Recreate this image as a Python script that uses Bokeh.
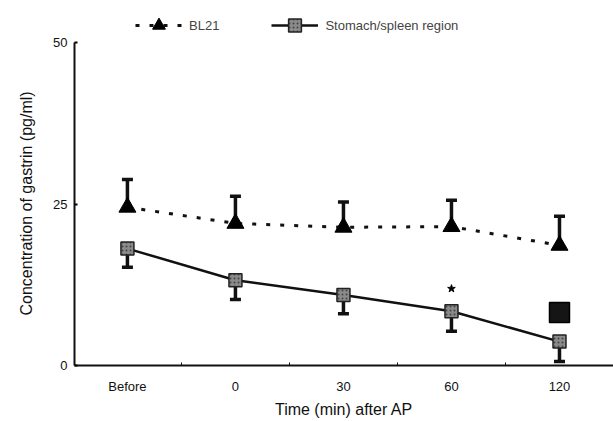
from bokeh.plotting import figure
from bokeh.models import Range1d, FixedTicker, Legend, LegendItem, Title
from bokeh.embed import file_html
from bokeh.resources import INLINE

categories = ["Before", "0", "30", "60", "120"]
bl21_mean = [24.5, 22.0, 21.4, 21.5, 18.6]
bl21_upper = [28.8, 26.2, 25.3, 25.6, 23.1]
stomach_mean = [18.1, 13.2, 10.9, 8.4, 3.7]
stomach_lower = [15.2, 10.2, 8.0, 5.3, 0.6]
star_category = "60"
star_value = 11.9
extra_category = "120"
extra_value = 8.2
y_ticks = [0, 25, 50]
x_title = "Time (min) after AP"
y_title = "Concentration of gastrin (pg/ml)"

xs = list(range(len(categories)))
idx = {c: i for i, c in enumerate(categories)}
FONT = "Liberation Sans"

p = figure(width=613, height=421, output_backend="svg", toolbar_location=None,
           x_range=Range1d(-0.49, 4.50), y_range=Range1d(0, 55.73),
           min_border_left=72, min_border_right=0, min_border_top=5, min_border_bottom=56)
p.outline_line_color = None
p.grid.visible = False
p.background_fill_color = "white"

# error bars
p.segment(x0=xs, y0=bl21_mean, x1=xs, y1=bl21_upper, line_color="#111111", line_width=3.5)
p.scatter(x=xs, y=bl21_upper, marker="dash", size=11, line_color="#111111", line_width=3.5)
p.segment(x0=xs, y0=stomach_mean, x1=xs, y1=stomach_lower, line_color="#111111", line_width=3.5)
p.scatter(x=xs, y=stomach_lower, marker="dash", size=11, line_color="#111111", line_width=3.5)

# lines and markers
l1 = p.line(xs, bl21_mean, line_color="#111111", line_width=3, line_dash="4 10")
m1 = p.scatter(xs, bl21_mean, marker="triangle", size=17, fill_color="#000000", line_color="#000000")
l2 = p.line(xs, stomach_mean, line_color="#111111", line_width=2.5)
m2 = p.scatter(xs, stomach_mean, marker="square", size=13, fill_color="#8a8a8a", line_color="#222222",
               line_width=1.5, hatch_pattern="dot", hatch_color="#444444", hatch_scale=4)

p.scatter([idx[star_category]], [star_value], marker="star", size=8, fill_color="#000000", line_color="#000000")
p.scatter([idx[extra_category]], [extra_value], marker="square", size=20, fill_color="#151515",
          line_color="#000000", line_width=1.5)

legend = Legend(items=[LegendItem(label="BL21", renderers=[l1, m1]),
                       LegendItem(label="Stomach/spleen region", renderers=[l2, m2])],
                orientation="horizontal", location=(61, 324), padding=0, margin=0,
                spacing=52, label_standoff=7, glyph_width=47, glyph_height=32,
                border_line_color=None, background_fill_alpha=0,
                label_text_font=FONT, label_text_font_size="13px")
p.add_layout(legend, "center")

# axes
p.xaxis.ticker = FixedTicker(ticks=xs, minor_ticks=[0.5, 1.5, 2.5, 3.5])
p.xaxis.major_label_overrides = {i: c for i, c in enumerate(categories)}
p.yaxis.ticker = FixedTicker(ticks=y_ticks)
p.yaxis.bounds = (0, 50)
for ax in (p.xaxis, p.yaxis):
    ax.axis_line_width = 2
    ax.axis_line_color = "#111111"
    ax.major_label_text_font = FONT
    ax.major_label_text_font_size = "13px"
    ax.major_label_text_color = "#111111"
    ax.axis_label_text_font = FONT
    ax.axis_label_text_font_size = "16px"
    ax.axis_label_text_font_style = "normal"
    ax.axis_label_text_color = "#111111"
p.xaxis.major_tick_line_color = None
p.xaxis.minor_tick_in = 3
p.xaxis.minor_tick_out = 0
p.xaxis.minor_tick_line_color = "#111111"
p.xaxis.major_label_standoff = 7
p.xaxis.axis_label = x_title
p.xaxis.axis_label_standoff = 4
p.yaxis.major_tick_in = 3
p.yaxis.major_tick_out = 0
p.yaxis.major_tick_line_width = 2
p.yaxis.minor_tick_line_color = None
p.yaxis.major_label_standoff = 7

ytitle = Title(text=y_title, align="left", offset=50, standoff=31,
               text_font=FONT, text_font_size="16px", text_font_style="normal",
               text_color="#111111")
p.add_layout(ytitle, "left")

open("out.html", "w").write(file_html(p, INLINE))
